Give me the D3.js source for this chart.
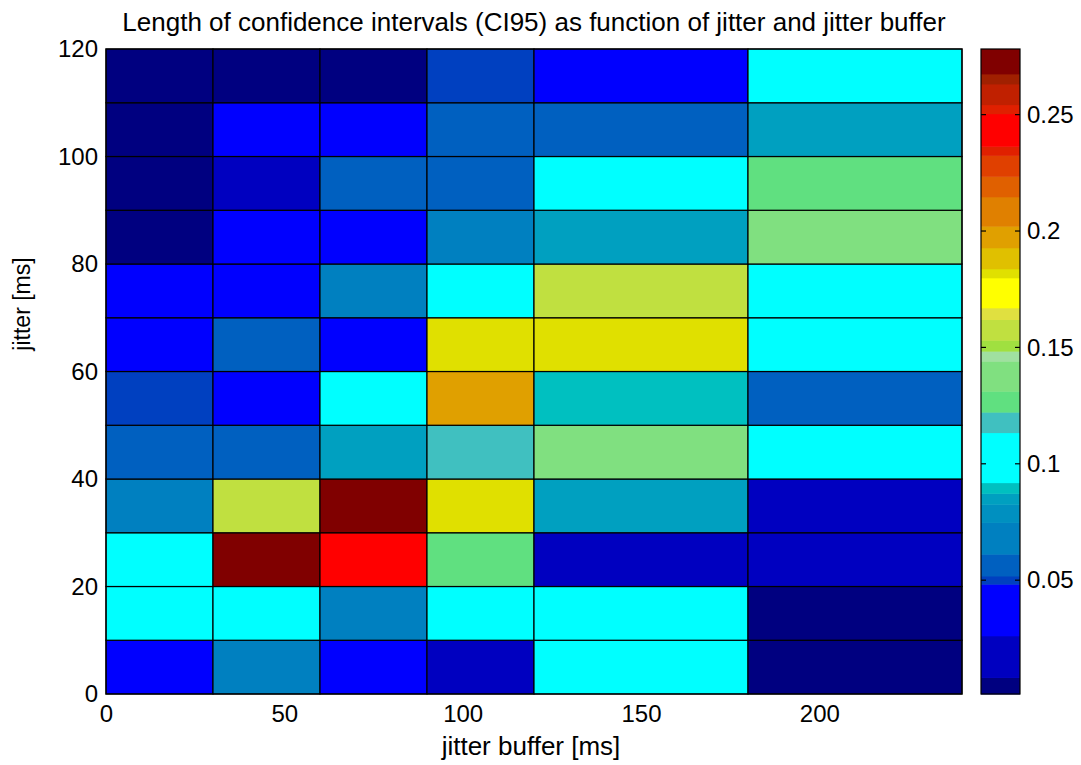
<!DOCTYPE html>
<html>
<head>
<meta charset="utf-8">
<script src="https://cdn.jsdelivr.net/npm/d3@7"></script>
<style>
  body { margin: 0; background: #fff; }
  svg { display: block; font-family: "Liberation Sans", Arial, sans-serif; }
</style>
</head>
<body>
<svg id="chart" width="1081" height="765"></svg>
<script>
// bordes de las celdas (ms)
var xEdges = [0, 30, 60, 90, 120, 180, 240];
var yEdges = [0, 10, 20, 30, 40, 50, 60, 70, 80, 90, 100, 110, 120];

// longitud del CI95, una fila por franja de jitter (de 0-10 hacia arriba)
var ci95 = [
  [0.037, 0.068, 0.035, 0.017, 0.100, 0.004],
  [0.098, 0.102, 0.066, 0.104, 0.097, 0.003],
  [0.105, 0.276, 0.243, 0.127, 0.018, 0.016],
  [0.069, 0.158, 0.278, 0.182, 0.085, 0.019],
  [0.056, 0.057, 0.085, 0.118, 0.138, 0.101],
  [0.050, 0.038, 0.099, 0.197, 0.090, 0.055],
  [0.036, 0.056, 0.040, 0.181, 0.182, 0.103],
  [0.039, 0.034, 0.067, 0.096, 0.157, 0.099],
  [0.005, 0.041, 0.036, 0.070, 0.086, 0.137],
  [0.004, 0.015, 0.058, 0.055, 0.108, 0.127],
  [0.006, 0.044, 0.042, 0.057, 0.056, 0.084],
  [0.002, 0.0012, 0.003, 0.050, 0.032, 0.094]
];

var xTicks = [0, 50, 100, 150, 200];
var yTicks = [0, 20, 40, 60, 80, 100, 120];
var cTicks = [0.05, 0.1, 0.15, 0.2, 0.25];

// bandas del colorbar (limites y colores tal como salen en la figura)
var bandEdges = [0.0011, 0.0082, 0.0261, 0.0483, 0.0518, 0.0612, 0.0748, 0.0826, 0.0873, 0.0919,
  0.1134, 0.1222, 0.1312, 0.1441, 0.1484, 0.1531, 0.1620, 0.1670, 0.1799, 0.1838,
  0.1928, 0.2021, 0.2147, 0.2235, 0.2325, 0.2364, 0.2504, 0.2543, 0.2632, 0.2675, 0.2782];
var bandColors = ["#000080", "#0000c0", "#0000ff", "#0040c0", "#0060c0", "#0080c0", "#0090c0", "#00a0c0", "#00c0c0", "#00ffff",
  "#40c0c0", "#60e080", "#80e080", "#a0e0a0", "#a0e040", "#c0e040", "#e0e040", "#ffff00", "#e0e000", "#e0c000",
  "#e0a000", "#e08000", "#e06000", "#e04000", "#e02000", "#ff0000", "#e02000", "#c02000", "#a02000", "#800000"];

var plot = { left: 106, right: 962, top: 49, bottom: 694 };
var bar = { left: 981, right: 1020 };

var svg = d3.select("#chart");

var xScale = d3.scaleLinear().domain([0, 240]).range([plot.left, plot.right]);
var yScale = d3.scaleLinear().domain([0, 120]).range([plot.bottom, plot.top]);
var cScale = d3.scaleLinear().domain([bandEdges[0], bandEdges[bandEdges.length - 1]]).range([plot.bottom, plot.top]);
var color = d3.scaleThreshold().domain(bandEdges.slice(1, -1)).range(bandColors);

// celdas
var cells = [];
ci95.forEach(function (row, i) {
  row.forEach(function (v, j) {
    cells.push({ x0: xEdges[j], x1: xEdges[j + 1], y0: yEdges[i], y1: yEdges[i + 1], v: v });
  });
});

svg.append("g")
  .selectAll("rect")
  .data(cells)
  .enter().append("rect")
  .attr("x", function (d) { return xScale(d.x0); })
  .attr("y", function (d) { return yScale(d.y1); })
  .attr("width", function (d) { return xScale(d.x1) - xScale(d.x0); })
  .attr("height", function (d) { return yScale(d.y0) - yScale(d.y1); })
  .attr("fill", function (d) { return color(d.v); })
  .attr("stroke", "#000")
  .attr("stroke-width", 1.2);

// marco
svg.append("rect")
  .attr("x", plot.left).attr("y", plot.top)
  .attr("width", plot.right - plot.left).attr("height", plot.bottom - plot.top)
  .attr("fill", "none").attr("stroke", "#000").attr("stroke-width", 1.2);

// ejes
var gx = svg.append("g")
  .attr("transform", "translate(0," + plot.bottom + ")")
  .call(d3.axisBottom(xScale).tickValues(xTicks).tickSize(0).tickPadding(11));
var gy = svg.append("g")
  .attr("transform", "translate(" + plot.left + ",0)")
  .call(d3.axisLeft(yScale).tickValues(yTicks).tickSize(0).tickPadding(8));
[gx, gy].forEach(function (g) {
  g.select(".domain").remove();
  g.selectAll("text").attr("font-size", 24).attr("fill", "#000")
    .attr("font-family", "Liberation Sans, Arial, sans-serif");
});

// colorbar
var bands = bandColors.map(function (c, i) { return { a: bandEdges[i], b: bandEdges[i + 1], c: c }; });
svg.append("g")
  .selectAll("rect")
  .data(bands)
  .enter().append("rect")
  .attr("x", bar.left)
  .attr("y", function (d) { return cScale(d.b); })
  .attr("width", bar.right - bar.left)
  .attr("height", function (d) { return cScale(d.a) - cScale(d.b) + 0.5; })
  .attr("fill", function (d) { return d.c; });

svg.append("rect")
  .attr("x", bar.left).attr("y", plot.top)
  .attr("width", bar.right - bar.left).attr("height", plot.bottom - plot.top)
  .attr("fill", "none").attr("stroke", "#000").attr("stroke-width", 1.2);

cTicks.forEach(function (t) {
  var y = cScale(t);
  svg.append("line").attr("x1", bar.left).attr("x2", bar.left + 5).attr("y1", y).attr("y2", y)
    .attr("stroke", "#000").attr("stroke-width", 1.2);
  svg.append("line").attr("x1", bar.right - 5).attr("x2", bar.right).attr("y1", y).attr("y2", y)
    .attr("stroke", "#000").attr("stroke-width", 1.2);
});

var gc = svg.append("g")
  .attr("transform", "translate(" + bar.right + ",0)")
  .call(d3.axisRight(cScale).tickValues(cTicks).tickSize(0).tickPadding(7).tickFormat(d3.format("")));
gc.select(".domain").remove();
gc.selectAll("text").attr("font-size", 24).attr("fill", "#000")
  .attr("font-family", "Liberation Sans, Arial, sans-serif");

// textos
svg.append("text")
  .attr("x", (plot.left + plot.right) / 2).attr("y", 31)
  .attr("text-anchor", "middle").attr("font-size", 26)
  .text("Length of confidence intervals (CI95) as function of jitter and jitter buffer");

svg.append("text")
  .attr("x", (plot.left + plot.right) / 2 - 3).attr("y", 755)
  .attr("text-anchor", "middle").attr("font-size", 26)
  .text("jitter buffer [ms]");

svg.append("text")
  .attr("transform", "translate(30," + 304 + ") rotate(-90)")
  .attr("text-anchor", "middle").attr("font-size", 23)
  .text("jitter [ms]");
</script>
</body>
</html>
